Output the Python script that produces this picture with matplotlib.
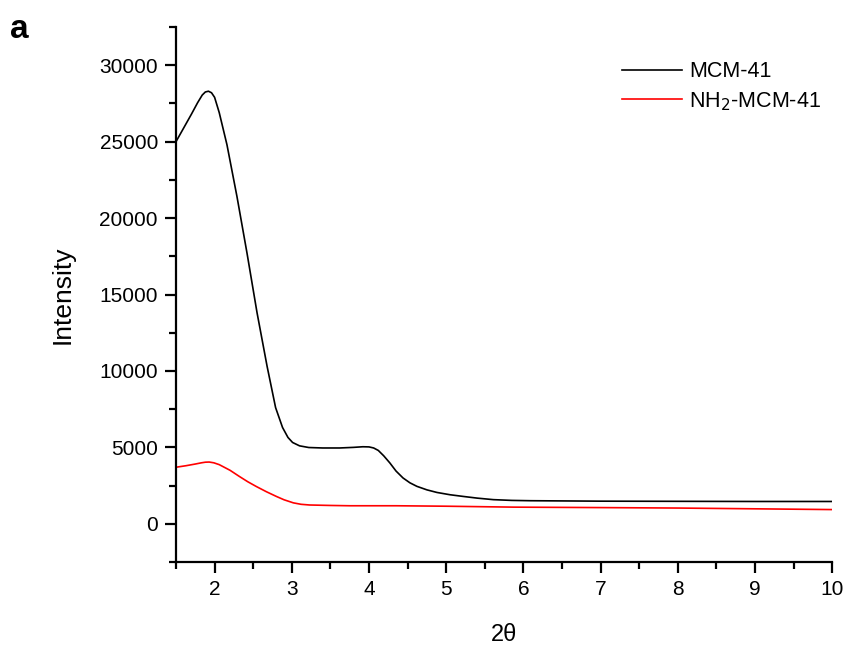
import matplotlib.pyplot as plt
from matplotlib.ticker import MultipleLocator

plt.rcParams['font.family'] = ['Liberation Sans', 'DejaVu Sans']

# MCM-41 (black)
x_mcm = [1.5, 1.6, 1.7, 1.78, 1.84, 1.88, 1.92, 1.96, 2.0, 2.06, 2.16, 2.29, 2.42, 2.55,
         2.68, 2.79, 2.88, 2.95, 3.01, 3.1, 3.22, 3.4, 3.62, 3.8, 3.92, 4.0, 4.06,
         4.12, 4.19, 4.27, 4.35, 4.44, 4.53, 4.62, 4.75, 4.88, 5.05, 5.22, 5.4, 5.61,
         5.85, 6.09, 7.0, 8.0, 9.0, 10.0]
y_mcm = [25000, 25900, 26800, 27550, 28050, 28250, 28300, 28200, 27900, 26900, 24800,
         21400, 17700, 13800, 10300, 7600, 6300, 5650, 5320, 5100, 4990, 4960, 4960,
         5000, 5040, 5030, 4960, 4800, 4450, 3980, 3450, 3000, 2680, 2450, 2220, 2050,
         1900, 1790, 1680, 1580, 1530, 1510, 1480, 1470, 1460, 1460]

# NH2-MCM-41 (red)
x_nh2 = [1.5, 1.63, 1.75, 1.83, 1.88, 1.93, 1.99, 2.06, 2.2, 2.32, 2.43, 2.54, 2.67,
         2.8, 2.9, 3.02, 3.12, 3.23, 3.5, 3.75, 4.35, 5.0, 5.87, 7.0, 8.0, 9.0, 10.0]
y_nh2 = [3700, 3800, 3910, 3990, 4030, 4040, 3990, 3870, 3500, 3100, 2750, 2440, 2100,
         1790, 1570, 1370, 1275, 1230, 1200, 1180, 1180, 1150, 1090, 1060, 1030, 980, 930]

fig = plt.figure(figsize=(8.49, 6.51), dpi=100)
ax = fig.add_axes([0.2073, 0.1367, 0.773, 0.8218])

ax.plot(x_mcm, y_mcm, color='black', lw=1.2, label='MCM-41')
ax.plot(x_nh2, y_nh2, color='red', lw=1.2, label='NH$_2$-MCM-41')

ax.set_xlim(1.5, 10)
ax.set_ylim(-2500, 32500)
ax.xaxis.set_major_locator(MultipleLocator(1))
ax.xaxis.set_minor_locator(MultipleLocator(0.5))
ax.yaxis.set_major_locator(MultipleLocator(5000))
ax.yaxis.set_minor_locator(MultipleLocator(2500))
ax.set_yticks([0, 5000, 10000, 15000, 20000, 25000, 30000])

for s in ['top', 'right']:
    ax.spines[s].set_visible(False)
for s in ['left', 'bottom']:
    ax.spines[s].set_linewidth(1.6)
ax.tick_params(which='major', direction='out', length=8, width=1.6, labelsize=15, pad=5)
ax.tick_params(which='minor', direction='out', length=5, width=1.6)

ax.set_xlabel('2θ', fontsize=17, labelpad=18)
ax.set_ylabel('Intensity', fontsize=19, labelpad=18)

ax.legend(loc='upper right', bbox_to_anchor=(1.012, 0.972), frameon=False, fontsize=15.5,
          handlelength=2.8, handletextpad=0.3, labelspacing=0.35)

fig.text(0.012, 0.942, 'a', fontsize=24, fontweight='bold')

fig.savefig('out.png', dpi=100)
